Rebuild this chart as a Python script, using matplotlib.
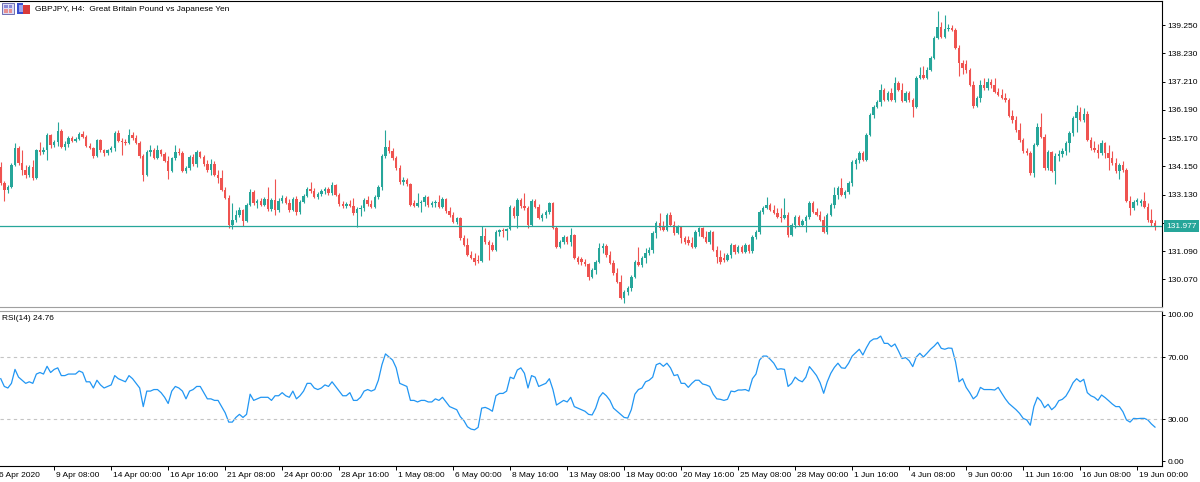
import matplotlib
matplotlib.use("Agg")
import matplotlib.pyplot as plt
import numpy as np
from matplotlib.patches import Rectangle
from matplotlib.transforms import blended_transform_factory, ScaledTranslation

plt.rcParams["font.family"] = ["Liberation Sans", "DejaVu Sans"]

# GBPJPY H4 candles, 6 Apr 2020 16:00 .. 19 Jun 2020 20:00
opens = [
    134.12, 133.55, 133.29, 133.40, 134.20, 134.81, 134.27, 134.02, 133.84, 134.12,
    133.73, 134.74, 134.67, 134.74, 135.28, 134.92, 135.03, 135.42, 134.85, 134.96,
    135.17, 135.06, 135.14, 135.32, 135.21, 134.88, 134.81, 134.52, 135.10, 134.74,
    134.63, 134.74, 134.81, 135.35, 135.06, 135.03, 134.99, 135.28, 135.17, 134.99,
    134.52, 133.84, 134.67, 134.74, 134.45, 134.74, 134.59, 134.34, 133.98, 134.45,
    134.67, 134.63, 133.98, 134.09, 134.49, 134.23, 134.67, 134.49, 134.23, 134.02,
    134.23, 133.84, 133.73, 133.29, 133.01, 132.03, 132.21, 132.39, 132.57, 132.18,
    132.75, 133.22, 132.83, 132.90, 132.75, 132.97, 132.61, 132.93, 132.57, 132.90,
    133.01, 132.83, 132.57, 132.97, 132.50, 132.86, 133.08, 133.33, 133.26, 133.04,
    133.15, 133.26, 133.33, 133.19, 133.47, 133.11, 132.79, 132.72, 132.79, 132.72,
    132.46, 132.61, 132.64, 132.93, 132.79, 132.68, 133.04, 133.40, 134.52, 134.85,
    134.70, 134.45, 134.09, 133.58, 133.66, 133.51, 132.83, 132.72, 132.83, 132.86,
    133.04, 132.75, 132.83, 132.86, 132.68, 132.97, 132.54, 132.39, 132.14, 132.28,
    131.56, 131.31, 130.95, 130.84, 130.77, 130.73, 131.63, 131.42, 131.31, 131.13,
    131.78, 131.85, 131.81, 131.89, 132.64, 132.36, 132.93, 132.72, 132.64, 132.03,
    132.90, 132.68, 132.28, 132.39, 132.50, 132.83, 131.92, 131.24, 131.42, 131.60,
    131.42, 131.67, 130.84, 130.80, 130.70, 130.62, 130.15, 130.41, 130.70, 131.20,
    131.27, 130.95, 130.66, 130.30, 129.97, 129.40, 129.61, 129.76, 130.15, 130.70,
    130.59, 130.84, 131.02, 131.13, 131.74, 132.10, 131.99, 131.85, 132.39, 132.03,
    131.74, 131.96, 131.56, 131.49, 131.38, 131.24, 131.78, 131.92, 131.60, 131.42,
    131.78, 131.13, 130.88, 130.84, 130.77, 130.95, 131.31, 131.06, 131.24, 131.06,
    131.31, 131.09, 131.60, 131.78, 132.50, 132.64, 132.75, 132.57, 132.46, 132.32,
    132.28, 132.39, 131.67, 132.03, 132.32, 132.03, 132.18, 132.32, 132.83, 132.50,
    132.39, 132.21, 131.78, 132.39, 132.75, 133.11, 133.37, 133.11, 133.22, 133.55,
    134.23, 134.38, 134.63, 134.38, 135.28, 136.00, 136.29, 136.47, 136.90, 136.54,
    136.80, 136.54, 137.16, 136.90, 136.51, 136.80, 136.54, 136.29, 137.34, 137.45,
    137.34, 137.63, 138.06, 138.78, 139.18, 138.82, 139.11, 139.14, 139.07, 138.42,
    137.88, 137.84, 137.63, 137.08, 136.33, 136.62, 137.08, 136.98, 137.19, 137.08,
    136.83, 136.72, 136.62, 136.54, 135.97, 135.82, 135.46, 135.10, 134.70, 134.63,
    133.91, 134.92, 135.57, 135.21, 134.09, 134.67, 133.98, 134.52, 134.59, 134.70,
    134.99, 135.35, 135.89, 136.11, 135.82, 136.04, 135.10, 134.81, 134.74, 134.63,
    134.99, 134.63, 134.45, 134.27, 133.98, 134.20, 134.02, 132.90, 132.64, 132.86,
    132.83, 132.90, 132.68, 132.21, 132.10,
]
highs = [
    134.31, 133.62, 133.47, 134.27, 134.99, 134.88, 134.74, 134.20, 134.20, 134.38,
    134.77, 135.03, 134.85, 135.35, 135.32, 135.10, 135.75, 135.50, 135.06, 135.24,
    135.24, 135.21, 135.39, 135.42, 135.28, 134.99, 134.85, 135.14, 135.14, 134.77,
    134.77, 134.88, 135.42, 135.46, 135.17, 135.14, 135.50, 135.39, 135.28, 135.06,
    134.59, 134.74, 134.92, 134.81, 134.92, 134.77, 134.67, 134.52, 134.49, 134.92,
    134.81, 134.70, 134.16, 134.56, 134.59, 134.74, 134.70, 134.56, 134.38, 134.41,
    134.34, 134.02, 134.02, 133.40, 133.11, 132.83, 132.57, 132.68, 132.61, 132.83,
    133.33, 133.29, 132.97, 133.01, 133.04, 133.40, 133.01, 133.69, 133.01, 133.11,
    133.08, 132.97, 133.04, 133.08, 132.93, 133.15, 133.40, 133.58, 133.37, 133.22,
    133.33, 133.40, 133.40, 133.58, 133.51, 133.19, 132.90, 132.86, 132.93, 133.01,
    132.68, 132.75, 133.01, 133.08, 132.93, 133.11, 133.47, 134.59, 135.46, 135.10,
    134.81, 134.52, 134.20, 133.76, 133.73, 133.55, 132.93, 133.19, 132.93, 133.11,
    133.08, 132.90, 132.93, 133.11, 133.04, 133.01, 132.68, 132.50, 132.32, 132.32,
    131.67, 131.56, 131.09, 131.02, 130.95, 131.99, 131.92, 131.49, 131.42, 131.85,
    131.89, 131.92, 131.92, 132.75, 132.72, 133.01, 133.01, 133.19, 132.72, 132.97,
    132.97, 132.79, 132.46, 132.57, 132.86, 132.86, 131.99, 131.49, 131.67, 131.63,
    131.92, 131.71, 130.91, 130.88, 130.80, 130.66, 130.48, 130.77, 131.38, 131.38,
    131.35, 131.09, 130.77, 130.48, 130.23, 129.68, 129.83, 130.23, 130.77, 131.24,
    130.91, 131.20, 131.24, 131.81, 132.18, 132.46, 132.18, 132.46, 132.50, 132.18,
    132.03, 131.99, 131.63, 131.63, 131.60, 131.85, 131.96, 131.96, 131.81, 131.85,
    131.81, 131.27, 131.13, 131.02, 131.02, 131.38, 131.35, 131.31, 131.31, 131.38,
    131.35, 131.67, 131.85, 132.57, 132.72, 133.04, 132.83, 132.75, 132.64, 132.64,
    133.01, 132.50, 132.10, 132.39, 132.39, 132.25, 132.39, 132.90, 132.90, 132.64,
    132.54, 132.36, 132.46, 132.83, 133.40, 133.44, 133.73, 133.29, 133.62, 134.38,
    134.45, 134.70, 134.70, 135.35, 136.07, 136.36, 136.54, 137.12, 136.98, 136.87,
    136.98, 137.37, 137.23, 137.16, 136.87, 136.87, 136.62, 137.41, 137.73, 137.77,
    137.73, 138.13, 138.85, 139.76, 139.36, 139.61, 139.29, 139.25, 139.14, 138.53,
    137.99, 137.99, 137.70, 137.23, 136.69, 137.27, 137.34, 137.34, 137.30, 137.34,
    136.98, 136.94, 136.80, 136.62, 136.18, 135.97, 135.71, 135.17, 134.81, 134.70,
    134.99, 135.71, 136.07, 135.32, 134.74, 134.70, 134.63, 134.74, 134.81, 135.06,
    135.42, 135.97, 136.36, 136.29, 136.25, 136.15, 135.21, 135.06, 134.96, 135.10,
    135.03, 134.92, 134.70, 134.45, 134.27, 134.34, 134.09, 133.08, 132.93, 133.01,
    132.97, 133.22, 132.83, 132.61, 132.21,
]
lows = [
    133.47, 132.90, 133.19, 133.37, 134.16, 134.20, 133.84, 133.73, 133.76, 133.66,
    133.69, 134.56, 134.59, 134.38, 134.81, 134.85, 134.88, 134.81, 134.74, 134.85,
    135.03, 135.03, 135.10, 135.17, 134.85, 134.77, 134.45, 134.49, 134.67, 134.52,
    134.56, 134.67, 134.70, 135.03, 134.56, 134.92, 134.96, 135.10, 134.96, 134.45,
    133.62, 133.80, 134.52, 134.41, 134.41, 134.52, 134.31, 133.69, 133.94, 134.38,
    134.56, 133.94, 133.91, 134.02, 134.16, 134.12, 134.45, 134.16, 133.94, 133.84,
    133.80, 133.55, 133.26, 132.97, 131.92, 131.89, 132.14, 132.32, 131.99, 132.14,
    132.72, 132.75, 132.64, 132.72, 132.72, 132.54, 132.54, 132.39, 132.50, 132.83,
    132.79, 132.50, 132.54, 132.39, 132.43, 132.83, 133.04, 133.19, 133.01, 132.97,
    133.08, 133.15, 133.11, 133.11, 133.08, 132.72, 132.64, 132.64, 132.68, 132.39,
    131.96, 132.36, 132.54, 132.72, 132.64, 132.64, 132.97, 133.29, 134.45, 134.63,
    134.38, 134.02, 133.51, 133.47, 133.44, 132.72, 132.68, 132.68, 132.50, 132.72,
    132.68, 132.68, 132.68, 132.64, 132.64, 132.46, 132.32, 132.10, 132.07, 131.49,
    131.27, 130.91, 130.80, 130.59, 130.66, 130.70, 131.35, 130.77, 131.09, 131.09,
    131.63, 131.60, 131.49, 131.85, 132.28, 131.92, 132.64, 132.57, 131.92, 131.99,
    132.64, 132.25, 132.18, 132.28, 132.43, 131.89, 131.20, 131.20, 131.35, 131.35,
    131.27, 130.80, 130.62, 130.59, 130.55, 130.05, 130.12, 130.26, 130.66, 131.02,
    130.88, 130.62, 130.23, 129.94, 129.36, 129.22, 129.50, 129.65, 130.12, 130.55,
    130.51, 130.66, 130.95, 131.02, 131.56, 131.85, 131.81, 131.81, 131.99, 131.67,
    131.71, 131.38, 131.35, 131.31, 131.20, 131.20, 131.63, 131.56, 131.38, 131.35,
    131.09, 130.66, 130.62, 130.70, 130.73, 130.84, 130.98, 131.02, 131.02, 131.02,
    131.02, 131.02, 131.53, 131.71, 132.43, 132.61, 132.54, 132.43, 132.28, 132.14,
    132.25, 131.60, 131.63, 131.92, 131.99, 131.99, 131.78, 132.25, 132.46, 132.36,
    132.18, 131.74, 131.71, 132.36, 132.64, 132.97, 133.08, 133.01, 133.15, 133.44,
    134.05, 134.27, 134.34, 134.34, 135.24, 135.89, 136.25, 136.33, 136.51, 136.51,
    136.51, 136.47, 136.87, 136.47, 136.47, 136.47, 135.93, 136.25, 137.30, 137.30,
    137.30, 137.59, 138.02, 138.75, 138.78, 138.78, 139.03, 139.03, 138.38, 137.41,
    137.48, 137.52, 137.05, 136.25, 136.29, 136.47, 136.90, 136.90, 136.98, 136.80,
    136.69, 136.58, 136.47, 135.93, 135.71, 135.39, 135.03, 134.63, 134.56, 133.84,
    133.76, 134.88, 135.17, 134.02, 134.02, 133.94, 133.51, 134.34, 134.49, 134.56,
    134.67, 135.24, 135.39, 135.79, 135.75, 135.06, 134.74, 134.67, 134.45, 134.56,
    134.45, 134.02, 134.20, 133.91, 133.69, 133.94, 132.86, 132.39, 132.57, 132.75,
    132.72, 132.64, 132.14, 131.99, 131.85,
]
closes = [
    133.55, 133.29, 133.40, 134.20, 134.81, 134.27, 134.02, 133.84, 134.12, 133.73,
    134.74, 134.67, 134.74, 135.28, 134.92, 135.03, 135.42, 134.85, 134.96, 135.17,
    135.06, 135.14, 135.32, 135.21, 134.88, 134.81, 134.52, 135.10, 134.74, 134.63,
    134.74, 134.81, 135.35, 135.06, 135.03, 134.99, 135.28, 135.17, 134.99, 134.52,
    133.84, 134.67, 134.74, 134.45, 134.74, 134.59, 134.34, 133.98, 134.45, 134.67,
    134.63, 133.98, 134.09, 134.49, 134.23, 134.67, 134.49, 134.23, 134.02, 134.23,
    133.84, 133.73, 133.29, 133.01, 132.03, 132.21, 132.39, 132.57, 132.18, 132.75,
    133.22, 132.83, 132.90, 132.75, 132.97, 132.61, 132.93, 132.57, 132.90, 133.01,
    132.83, 132.57, 132.97, 132.50, 132.86, 133.08, 133.33, 133.26, 133.04, 133.15,
    133.26, 133.33, 133.19, 133.47, 133.11, 132.79, 132.72, 132.79, 132.72, 132.46,
    132.61, 132.64, 132.93, 132.79, 132.68, 133.04, 133.40, 134.52, 134.85, 134.70,
    134.45, 134.09, 133.58, 133.66, 133.51, 132.75, 132.72, 132.83, 132.86, 133.04,
    132.75, 132.83, 132.86, 132.68, 132.97, 132.54, 132.39, 132.14, 132.28, 131.56,
    131.31, 130.95, 130.84, 130.70, 130.73, 131.63, 131.42, 131.31, 131.13, 131.78,
    131.85, 131.81, 131.89, 132.68, 132.36, 132.93, 132.72, 132.64, 132.03, 132.90,
    132.68, 132.28, 132.39, 132.50, 132.83, 131.92, 131.24, 131.42, 131.60, 131.42,
    131.67, 130.84, 130.70, 130.70, 130.62, 130.15, 130.41, 130.70, 131.20, 131.27,
    130.95, 130.66, 130.30, 129.97, 129.40, 129.61, 129.76, 130.15, 130.70, 130.59,
    130.84, 131.02, 131.13, 131.74, 132.10, 131.92, 131.85, 132.39, 132.03, 131.74,
    131.96, 131.56, 131.42, 131.38, 131.24, 131.78, 131.92, 131.60, 131.42, 131.78,
    131.13, 130.88, 130.70, 130.77, 130.95, 131.31, 131.06, 131.24, 131.06, 131.31,
    131.09, 131.60, 131.78, 132.50, 132.64, 132.75, 132.57, 132.46, 132.32, 132.28,
    132.39, 131.67, 132.03, 132.32, 132.03, 132.18, 132.32, 132.83, 132.50, 132.39,
    132.21, 131.78, 132.39, 132.75, 133.11, 133.37, 133.11, 133.22, 133.55, 134.31,
    134.38, 134.63, 134.38, 135.28, 136.00, 136.29, 136.47, 136.90, 136.54, 136.80,
    136.54, 137.16, 136.90, 136.51, 136.80, 136.54, 136.29, 137.34, 137.45, 137.34,
    137.63, 138.06, 138.78, 139.18, 138.82, 139.11, 139.14, 139.07, 138.42, 137.88,
    137.70, 137.63, 137.08, 136.33, 136.62, 137.08, 136.98, 137.19, 137.08, 136.83,
    136.72, 136.62, 136.54, 135.97, 135.82, 135.46, 135.10, 134.70, 134.63, 133.91,
    134.92, 135.57, 135.21, 134.09, 134.67, 133.98, 134.52, 134.59, 134.70, 134.99,
    135.35, 135.89, 136.11, 135.82, 136.04, 135.10, 134.81, 134.74, 134.63, 134.99,
    134.63, 134.45, 134.27, 133.98, 134.20, 134.02, 132.90, 132.64, 132.86, 132.93,
    132.90, 132.68, 132.21, 132.10, 131.977,
]
rsi = [
    56, 51, 50, 53, 62, 57, 55, 53, 54, 53,
    59, 60, 59, 64, 60, 62, 63, 58, 58, 59,
    59, 59, 61, 60, 54, 54, 50, 55, 52, 50,
    51, 52, 58, 56, 55, 54, 58, 56, 53, 50,
    38, 48, 48, 49, 49, 47, 44, 40, 48, 51,
    50, 48, 43, 48, 49, 51, 51, 47, 43, 43,
    42, 42, 38, 34, 28, 28, 31, 33, 31, 33,
    46, 42, 43, 44, 44, 44, 42, 45, 45, 47,
    45, 44, 48, 43, 45, 48, 53, 53, 50, 49,
    50, 52, 51, 54, 51, 48, 45, 45, 47, 42,
    42, 44, 48, 49, 48, 49, 55, 65, 72, 70,
    68, 63, 53, 52, 51, 42, 42, 41, 42, 42,
    41, 41, 43, 42, 44, 41, 38, 37, 36, 31.5,
    29, 25, 23.5, 23, 24.6, 37, 37.5, 36.5, 35, 45,
    46.5, 46.5, 48, 57, 56, 61.6, 63, 59.5, 50, 58,
    57, 51, 52, 53, 56, 49, 39, 40.5, 42, 41,
    44, 38, 37, 36, 35, 33, 32.6, 37, 44, 47,
    45, 42, 37, 35, 33, 31, 30.6, 36, 46, 49,
    50, 54, 55, 57, 65, 66, 64, 66, 63, 58,
    58.6, 53, 53, 50.4, 53, 55, 55, 52.6, 52, 51,
    46, 43, 42.7, 42, 42.7, 48, 47.6, 48.7, 48.7, 49,
    48, 56, 59, 68, 70.6, 70.6, 68.5, 66, 62, 62.4,
    62, 51, 53, 57, 55, 54, 57, 63.8, 61, 58,
    53.4, 46.6, 54, 59.5, 63.3, 66, 63, 62.7, 66, 70.6,
    72.8, 75, 71.3, 76, 80, 81.6, 81.8, 83.5, 78.8, 78.8,
    76.7, 78.4, 73.9, 69, 69.6, 67.6, 63.8, 70, 72.4, 70,
    72.4, 75, 77, 79.5, 75.6, 75, 75.8, 75.6, 67, 54,
    56, 50.4, 47, 43, 45, 50.4, 49, 49, 49, 48.7,
    50.4, 46.6, 43, 40, 38, 36, 33.6, 30.4, 29.4, 26,
    38, 44, 41.6, 37.3, 39.5, 36, 38, 41.8, 42.7, 44.8,
    48.7, 53.4, 56, 54, 55.6, 47, 45, 44, 42, 45.5,
    43.8, 41.8, 39.7, 38, 38, 34.7, 29.4, 28, 30.4, 30.2,
    30.4, 30.4, 29.4, 26.8, 24.76,
]

date_labels = [
    "6 Apr 2020", "9 Apr 08:00", "14 Apr 00:00", "16 Apr 16:00", "21 Apr 08:00",
    "24 Apr 00:00", "28 Apr 16:00", "1 May 08:00", "6 May 00:00", "8 May 16:00",
    "13 May 08:00", "18 May 00:00", "20 May 16:00", "25 May 08:00", "28 May 00:00",
    "1 Jun 16:00", "4 Jun 08:00", "9 Jun 00:00", "11 Jun 16:00", "16 Jun 08:00",
    "19 Jun 00:00",
]
price_ticks = [130.070, 131.090, 132.110, 133.130, 134.150,
               135.170, 136.190, 137.210, 138.230, 139.250]
rsi_levels = [30, 70]
rsi_ticks = [0, 30, 70, 100]
last_price = 131.977
last_rsi = 24.76

BULL = "#26a69a"
BEAR = "#ef5350"
FS = 6

W, H = 1200, 482
fig = plt.figure(figsize=(W / 100, H / 100), dpi=100)


def box(x0, y0, x1, y1):
    return [x0 / W, 1 - y1 / H, (x1 - x0) / W, (y1 - y0) / H]


ax = fig.add_axes(box(0, 0.5, 1162, 307))
axr = fig.add_axes(box(0, 310.5, 1162, 465.5))

o = np.array(opens)
h = np.array(highs)
l = np.array(lows)
c = np.array(closes)
x = np.arange(len(c))
colors = np.where(c >= o, BULL, BEAR)

# candles
ax.vlines(x, l, h, colors=colors, linewidth=0.8)
body = np.maximum(np.abs(c - o), 0.012)
ax.bar(x, body, bottom=np.minimum(o, c), width=0.68, color=colors, linewidth=0)
ax.axhline(last_price, color=BULL, linewidth=0.9)

xlim = (-0.21, 325.97)
ax.set_xlim(*xlim)
ax.set_ylim(129.07, 140.135)
ax.set_xticks([])
ax.yaxis.tick_right()
ax.set_yticks(price_ticks)
ax.set_yticklabels([f"{t:.3f}" for t in price_ticks])
ax.tick_params(axis="y", direction="out", length=2.5, width=0.7, pad=1.5,
               labelsize=FS, colors="black")
ax.spines["left"].set_visible(False)
ax.spines["bottom"].set_color("#a0a0a0")
for s in ("top", "right"):
    ax.spines[s].set_color("black")
for s in ax.spines.values():
    s.set_linewidth(0.8)

tr = blended_transform_factory(ax.transAxes, ax.transData)
ax.text(1.0 + 4 / 1162, last_price, f"{last_price:.3f}", transform=tr,
        ha="left", va="center", color="white", fontsize=FS, zorder=10,
        clip_on=False,
        bbox=dict(boxstyle="square,pad=0.3", fc=BULL, ec="none"))

# RSI panel
axr.plot(x, rsi, color="#2196F3", linewidth=0.9)
for lv in rsi_levels:
    axr.axhline(lv, color="#c4c4c4", linewidth=0.8, linestyle=(0, (3, 3)))
axr.set_xlim(*xlim)
axr.set_ylim(0, 100)
axr.yaxis.tick_right()
# MT5 pulls the edge labels inside the panel
rsi_pos = [2.9, 30, 70, 97.1]
axr.set_yticks(rsi_pos)
axr.set_yticklabels([f"{t:.2f}" for t in rsi_ticks])
axr.tick_params(axis="y", direction="out", length=2.5, width=0.7, pad=1.5,
                labelsize=FS, colors="black")
axr.spines["left"].set_visible(False)
axr.spines["top"].set_color("#a0a0a0")
for s in axr.spines.values():
    s.set_linewidth(0.8)

tick_bars = [-1 + 16 * k for k in range(len(date_labels))]
axr.set_xticks(tick_bars[1:])
axr.set_xticklabels(date_labels[1:])
axr.tick_params(axis="x", direction="out", length=3, width=0.7, pad=1.5,
                labelsize=FS, colors="black")
shift = ScaledTranslation(1.5 / 72, 0, fig.dpi_scale_trans)
for lab in axr.get_xticklabels():
    lab.set_horizontalalignment("left")
    lab.set_transform(lab.get_transform() + shift)
axr.annotate(date_labels[0], xy=(tick_bars[0], 0),
             xycoords=("data", "axes fraction"), xytext=(1.5, -4.5),
             textcoords="offset points", ha="left", va="top", fontsize=FS,
             annotation_clip=False)

# header texts
fig.text(35 / W, 1 - 9.5 / H, "GBPJPY, H4:  Great Britain Pound vs Japanese Yen",
         ha="left", va="center", fontsize=FS)
fig.text(2 / W, 1 - 319 / H, f"RSI(14) {last_rsi:.2f}",
         ha="left", va="center", fontsize=FS)


# small window icons at top left
def rect(x0, y0, w, hgt, fc, ec="none", lw=0.6):
    fig.add_artist(Rectangle((x0 / W, 1 - (y0 + hgt) / H), w / W, hgt / H,
                             transform=fig.transFigure, fc=fc, ec=ec, lw=lw))


rect(2, 3, 12, 11, "#dcdcf5", "#5a5aa8")
rect(4, 5, 3.5, 3, "#8a8ad8")
rect(8.5, 5, 3.5, 3, "#8a8ad8")
rect(4, 9, 3.5, 3.5, "#e89090")
rect(8.5, 9, 3.5, 3.5, "#e89090")
rect(17, 3, 6, 11, "#3a4fd0")
rect(19, 5, 4, 7, "#9aa6f0")
rect(23, 5, 7, 9, "#d83a3a")

fig.savefig("out.png", dpi=100)
